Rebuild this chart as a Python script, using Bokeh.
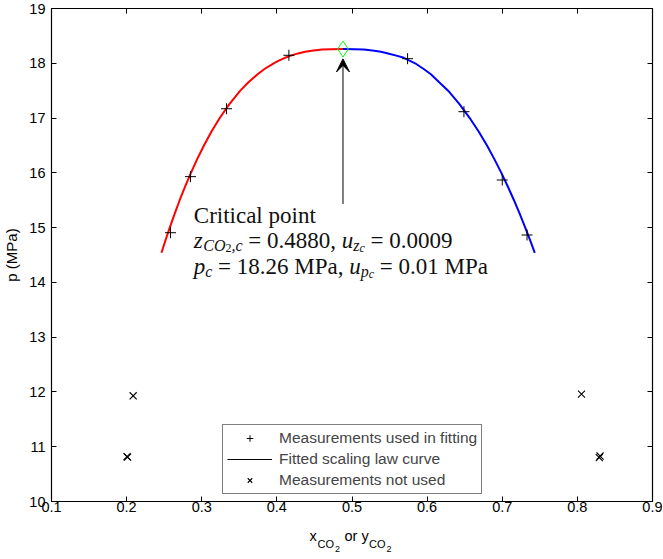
from bokeh.plotting import figure
from bokeh.layouts import column
from bokeh.models import (Label, Arrow, VeeHead, Legend, LegendItem, LinearAxis,
                          FixedTicker, Range1d, CustomJSTickFormatter)
from bokeh.embed import file_html
from bokeh.resources import INLINE

# ---------------- data ----------------
x_ticks = [0.1, 0.2, 0.3, 0.4, 0.5, 0.6, 0.7, 0.8, 0.9]
p_ticks = [10, 11, 12, 13, 14, 15, 16, 17, 18, 19]

# critical point
z_crit = [0.488]
p_crit = [18.26]

# measurements used in fitting
fit_x = [0.2584, 0.285, 0.333, 0.416, 0.574, 0.649, 0.700, 0.733]
fit_p = [14.907, 15.93, 17.17, 18.146, 18.084, 17.116, 15.869, 14.865]

# measurements not used
unused_x = [0.2087, 0.2005, 0.2012, 0.8055, 0.8292, 0.8302]
unused_p = [11.93, 10.82, 10.81, 11.96, 10.80, 10.83]

# fitted scaling-law curve (liquid / red branch, vapour / blue branch)
liq_p = [14.54, 14.75, 15.0, 15.25, 15.5, 15.75, 16.0, 16.25, 16.5, 16.75, 17.0, 17.25,
         17.5, 17.65, 17.8, 17.9, 18.0, 18.05, 18.1, 18.14, 18.18, 18.21, 18.23, 18.25,
         18.258, 18.26]
liq_x = [0.2464, 0.2513, 0.2574, 0.2639, 0.2706, 0.2778, 0.2856, 0.2939, 0.3029, 0.3128,
         0.3239, 0.3365, 0.3513, 0.3618, 0.3743, 0.3840, 0.3957, 0.4026, 0.4107, 0.4185,
         0.4281, 0.4377, 0.4463, 0.4602, 0.4727, 0.488]
vap_p = [18.26, 18.258, 18.25, 18.23, 18.21, 18.18, 18.14, 18.1, 18.05, 18.0, 17.9, 17.8,
         17.65, 17.5, 17.25, 17.0, 16.75, 16.5, 16.25, 16.0, 15.75, 15.5, 15.25, 15.0,
         14.75, 14.54]
vap_x = [0.488, 0.5033, 0.5158, 0.5297, 0.5385, 0.5481, 0.5590, 0.5690, 0.5765, 0.5840,
         0.5950, 0.6050, 0.6164, 0.6280, 0.6433, 0.6567, 0.6688, 0.6797, 0.6895, 0.6988,
         0.7074, 0.7156, 0.7233, 0.7306, 0.7377, 0.7433]

legend_labels = ["Measurements used in fitting", "Fitted scaling law curve", "Measurements not used"]

# ---------------- main figure ----------------
W = 662
p = figure(width=W, height=522, output_backend="svg", toolbar_location=None,
           x_range=Range1d(0.1, 0.9), y_range=Range1d(10, 19),
           min_border_left=51, min_border_right=10, min_border_top=8, min_border_bottom=21)
p.xgrid.visible = False
p.ygrid.visible = False
p.outline_line_color = "black"
p.outline_line_width = 1.2

SANS = "Liberation Sans"
for ax, ticks in ((p.xaxis[0], x_ticks), (p.yaxis[0], p_ticks)):
    ax.ticker = FixedTicker(ticks=ticks)
    ax.minor_tick_line_color = None
    ax.major_tick_in = 5
    ax.major_tick_out = 0
    ax.axis_line_color = "black"
    ax.major_tick_line_color = "black"
    ax.major_label_text_font = SANS
    ax.major_label_text_font_size = "14.5px"
    ax.major_label_text_color = "black"
p.xaxis[0].major_label_standoff = 0
p.yaxis[0].major_label_standoff = 6

p.yaxis[0].axis_label = "p (MPa)"
p.yaxis[0].axis_label_text_font = SANS
p.yaxis[0].axis_label_text_font_size = "15px"
p.yaxis[0].axis_label_text_font_style = "normal"
p.yaxis[0].axis_label_text_color = "black"
p.yaxis[0].axis_label_standoff = 6

for loc, ticks in (("right", p_ticks), ("above", x_ticks)):
    ax = LinearAxis(ticker=FixedTicker(ticks=ticks),
                    formatter=CustomJSTickFormatter(code="return ''"),
                    major_tick_in=5, major_tick_out=0, minor_tick_line_color=None,
                    major_label_standoff=0, major_label_text_font_size="1px",
                    axis_line_color="black", major_tick_line_color="black")
    p.add_layout(ax, loc)

# ---------------- glyphs ----------------
p.line(liq_x, liq_p, line_color="#ff0000", line_width=2)
p.line(vap_x, vap_p, line_color="#0000ff", line_width=2)
r_fit = p.scatter(fit_x, fit_p, marker="cross", size=11, line_color="black", line_width=1)
r_unused = p.scatter(unused_x, unused_p, marker="x", size=10, line_color="black", line_width=1.1)
r_curve = p.line(x=[float("nan")], y=[float("nan")], line_color="black", line_width=1)
p.scatter(z_crit, p_crit, marker="diamond", size=16, fill_color=None,
          line_color="#00ff00", line_width=1)

p.add_layout(Arrow(end=VeeHead(size=13, fill_color="black", line_color="black"),
                   x_start=z_crit[0], y_start=15.43, x_end=z_crit[0], y_end=18.08,
                   line_color="black", line_width=1))

# ---------------- annotation text ----------------
SERIF = "Liberation Serif"
ANN_X, ANN_Y = 0.2894, 15.23
runs = [
    (0, 0, "Critical point", 23, False),
    (0, 25, "z", 23, True),
    (9.5, 30, "CO", 16, True),
    (31.7, 33, "2", 12, False),
    (37.7, 30, ",c", 16, True),
    (54.5, 25, "= 0.4880,", 23, False),
    (148, 25, "u", 23, True),
    (159.5, 30, "z", 16, True),
    (165.7, 33, "c", 12, True),
    (176.7, 25, "= 0.0009", 23, False),
    (0, 51, "p", 23, True),
    (11.5, 56, "c", 16, True),
    (24.3, 51, "= 18.26 MPa,", 23, False),
    (155.5, 51, "u", 23, True),
    (167, 56, "p", 16, True),
    (175, 59, "c", 12, True),
    (186, 51, "= 0.01 MPa", 23, False),
]
for dx, dy, txt, sz, it in runs:
    p.add_layout(Label(x=ANN_X, y=ANN_Y, x_offset=dx, y_offset=-dy, text=txt,
                       text_font=SERIF, text_font_size=f"{sz}px",
                       text_font_style="italic" if it else "normal",
                       text_color="#111111", text_align="left", text_baseline="alphabetic"))

# ---------------- legend ----------------
legend = Legend(items=[LegendItem(label=legend_labels[0], renderers=[r_fit]),
                       LegendItem(label=legend_labels[1], renderers=[r_curve]),
                       LegendItem(label=legend_labels[2], renderers=[r_unused])],
                location=(171, 7), margin=0, padding=4, spacing=3,
                label_text_font=SANS, label_text_font_size="15.5px",
                label_height=16, glyph_height=16, glyph_width=45, label_standoff=7,
                border_line_color="black", border_line_width=1,
                background_fill_color="white", background_fill_alpha=1.0)
p.add_layout(legend)

# ---------------- x-axis label strip (text with subscripts) ----------------
QH = 37
q = figure(width=W, height=QH, output_backend="svg", toolbar_location=None,
           x_range=p.x_range, y_range=Range1d(0, QH),
           min_border_left=51, min_border_right=10, min_border_top=0, min_border_bottom=0)
q.axis.visible = False
q.grid.visible = False
q.outline_line_color = None

xl_runs = [
    (-42.5, 24, "x", 14.5),
    (-34.5, 16, "CO", 11),
    (-17.0, 11, "2", 9),
    (-7.5, 24, "or y", 14.5),
    (17.0, 16, "CO", 11),
    (34.5, 11, "2", 9),
]
for dx, yy, txt, sz in xl_runs:
    q.add_layout(Label(x=0.5, y=yy, x_offset=dx, text=txt,
                       text_font=SANS, text_font_size=f"{sz}px", text_color="black",
                       text_align="left", text_baseline="alphabetic"))

layout = column(p, q, spacing=0)
open("out.html", "w").write(file_html(layout, INLINE))
